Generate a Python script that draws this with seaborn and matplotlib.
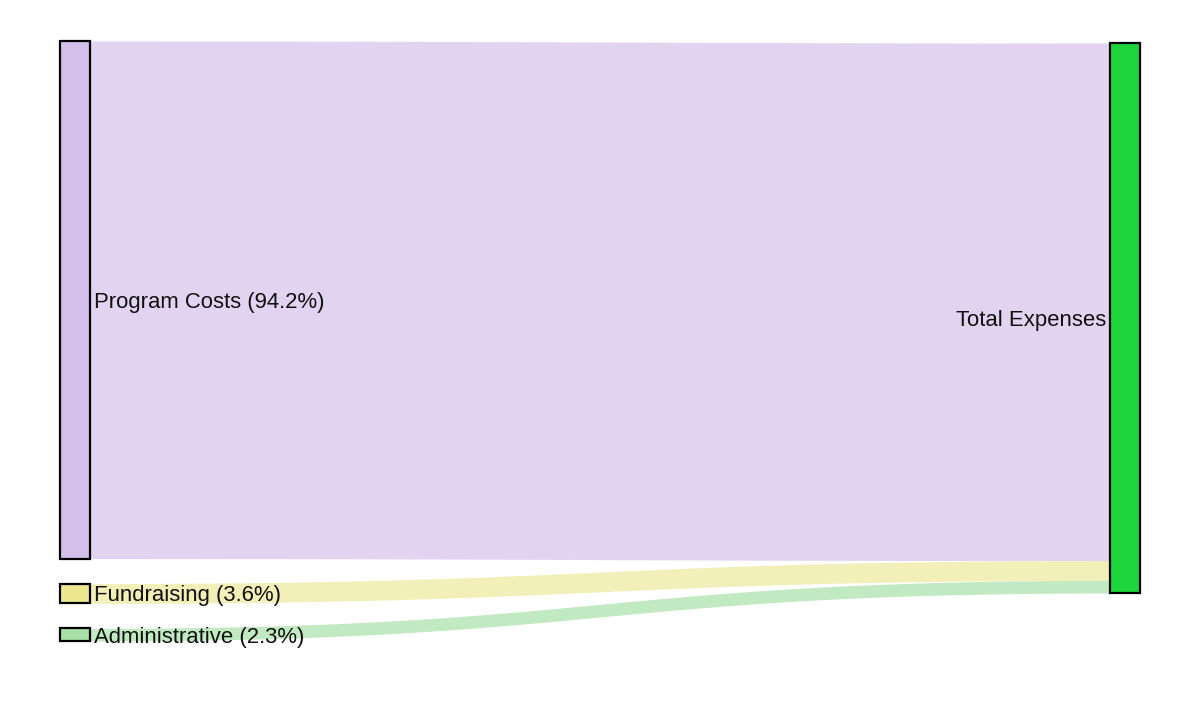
import numpy as np
import matplotlib.pyplot as plt
import seaborn as sns

# sankey data: sources flowing into one target
sources = ['Program Costs', 'Fundraising', 'Administrative']
shares = [94.2, 3.6, 2.3]
target = 'Total Expenses'

node_colors = ['#d4bfeb', '#ede890', '#a8e0a8']
link_colors = ['#e2d4f0', '#f2f0b8', '#c2eac2']
target_color = '#1ed63c'

sns.set_style('white')
plt.rcParams['font.family'] = ['Liberation Sans', 'DejaVu Sans']

fig = plt.figure(figsize=(12, 7.01), dpi=100)
ax = fig.add_axes([0, 0, 1, 1])
ax.set_xlim(0, 1200)
ax.set_ylim(701, 0)
ax.axis('off')

# layout in pixel units
x_left, x_right, node_w = 60, 1110, 30
left_top, right_top, gap = 41, 43, 25
scale = 550 / sum(shares)
txt_dy = 2.5


def bezier(y0, y1, n=200):
    t = np.linspace(0, 1, n)
    x0, x1 = x_left + node_w, x_right
    xm = (x0 + x1) / 2
    xs = (1 - t) ** 3 * x0 + 3 * (1 - t) ** 2 * t * xm + 3 * (1 - t) * t ** 2 * xm + t ** 3 * x1
    ys = (1 - t) ** 3 * y0 + 3 * (1 - t) ** 2 * t * y0 + 3 * (1 - t) * t ** 2 * y1 + t ** 3 * y1
    return xs, ys


y_l = left_top
y_r = right_top
for name, val, nc, lc in zip(sources, shares, node_colors, link_colors):
    h = val * scale
    xs, top = bezier(y_l, y_r)
    _, bot = bezier(y_l + h, y_r + h)
    ax.fill_between(xs, top, bot, color=lc, lw=0, zorder=1)
    ax.add_patch(plt.Rectangle((x_left, y_l), node_w, h, facecolor=nc,
                               edgecolor='black', lw=1.6, zorder=3))
    ax.text(x_left + node_w + 4, y_l + h / 2 + txt_dy, f'{name} ({val}%)', fontsize=15.9,
            va='center', ha='left', color='#111111', zorder=4)
    y_l += h + gap
    y_r += h

total_h = sum(shares) * scale
ax.add_patch(plt.Rectangle((x_right, right_top), node_w, total_h, facecolor=target_color,
                           edgecolor='black', lw=1.6, zorder=3))
ax.text(x_right - 4, right_top + total_h / 2 + txt_dy, target, fontsize=15.9,
        va='center', ha='right', color='#111111', zorder=4)

fig.savefig('out.png', dpi=100)
